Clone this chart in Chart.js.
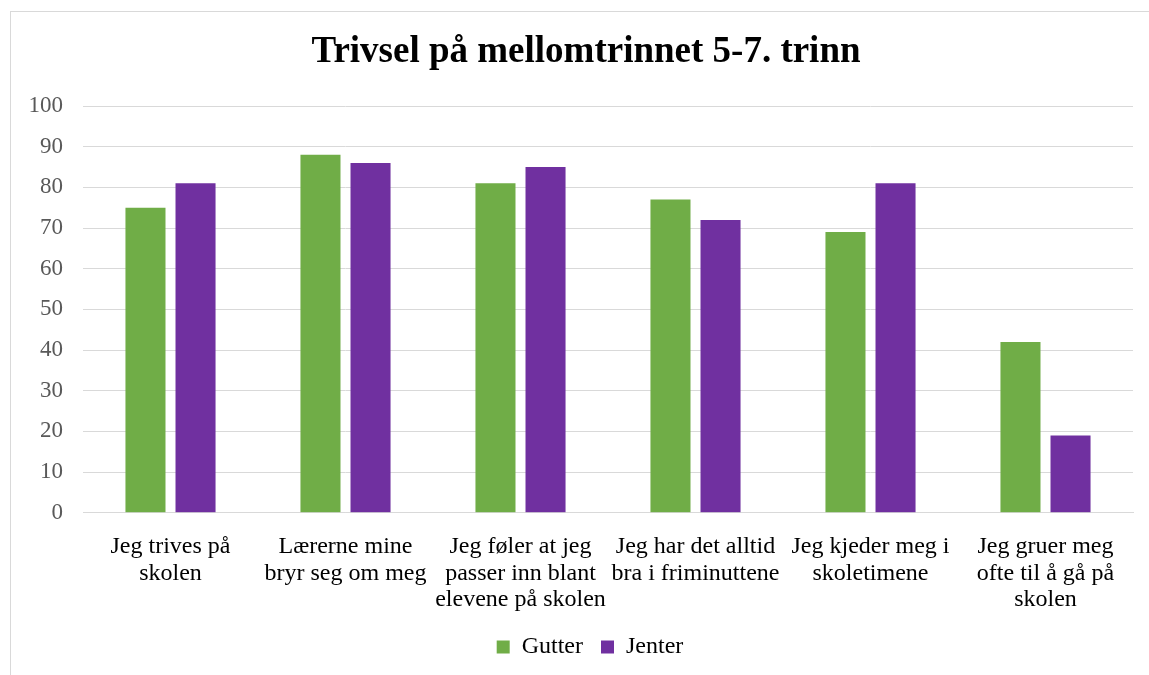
<!DOCTYPE html>
<html>
<head>
<meta charset="utf-8">
<script src="https://cdn.jsdelivr.net/npm/chart.js@4/dist/chart.umd.min.js"></script>
<style>
  html, body { margin: 0; padding: 0; background: #fff; overflow: hidden; }
  #frame {
    position: absolute; left: 10px; top: 11px;
    width: 1139px; height: 664px; overflow: hidden;
    border-left: 1px solid #d9d9d9; border-top: 1px solid #d9d9d9;
  }
  #chart { display: block; }
</style>
</head>
<body>
<div id="frame"><canvas id="chart" width="1138" height="674"></canvas></div>
<script>
const categories = [
    ['Jeg trives på', 'skolen'],
    ['Lærerne mine', 'bryr seg om meg'],
    ['Jeg føler at jeg', 'passer inn blant', 'elevene på skolen'],
    ['Jeg har det alltid', 'bra i friminuttene'],
    ['Jeg kjeder meg i', 'skoletimene'],
    ['Jeg gruer meg', 'ofte til å gå på', 'skolen']
];
const gutter = [75, 88, 81, 77, 69, 42];
const jenter = [81, 86, 85, 72, 81, 19];
const yTicks = { min: 0, max: 100, step: 10 };
const chartTitle = 'Trivsel på mellomtrinnet 5-7. trinn';

const serif = "'Liberation Serif', 'Times New Roman', serif";

// title drawn by hand so it can sit a bit right of the canvas centre, like the original
const titlePlugin = {
    id: 'offsetTitle',
    afterDraw(chart) {
        const ctx = chart.ctx;
        ctx.save();
        ctx.font = 'bold 37px ' + serif;
        ctx.fillStyle = '#000';
        ctx.textAlign = 'center';
        ctx.textBaseline = 'middle';
        ctx.fillText(chartTitle, 575, 40);
        ctx.restore();
    }
};

// nudge the legend up and right after layout (keeps item spacing but sits closer to the labels)
const legendNudge = {
    id: 'legendNudge',
    afterLayout(chart) {
        const lg = chart.legend;
        if (!lg) return;
        lg.top -= 17; lg.bottom -= 17;
        lg.left += 17; lg.right += 17;
    }
};

new Chart(document.getElementById('chart'), {
    type: 'bar',
    data: {
        labels: categories,
        datasets: [
            { label: 'Gutter', data: gutter, backgroundColor: '#70AD47' },
            { label: 'Jenter', data: jenter, backgroundColor: '#7030A0' }
        ]
    },
    plugins: [titlePlugin, legendNudge],
    options: {
        responsive: false,
        animation: false,
        layout: { padding: { left: 2, right: 16, top: 94, bottom: 0 } },
        datasets: { bar: { categoryPercentage: 0.572, barPercentage: 0.8 } },
        plugins: {
            title: { display: false },
            legend: {
                position: 'bottom',
                labels: {
                    color: '#000',
                    font: { family: serif, size: 24 },
                    boxWidth: 13, boxHeight: 13,
                    padding: 18
                }
            },
            tooltip: { enabled: false }
        },
        scales: {
            x: {
                grid: { display: false, drawTicks: false },
                border: { color: '#d9d9d9' },
                ticks: {
                    color: '#000',
                    font: { family: serif, size: 24, lineHeight: 1.1 },
                    maxRotation: 0, autoSkip: false,
                    padding: 21
                }
            },
            y: {
                min: yTicks.min, max: yTicks.max,
                grid: { color: '#d9d9d9', drawTicks: false },
                border: { display: false },
                afterFit: function (scale) { scale.width = 70; },
                ticks: {
                    stepSize: yTicks.step,
                    color: '#595959',
                    font: { family: serif, size: 23 },
                    padding: 20
                }
            }
        }
    }
});
</script>
</body>
</html>
